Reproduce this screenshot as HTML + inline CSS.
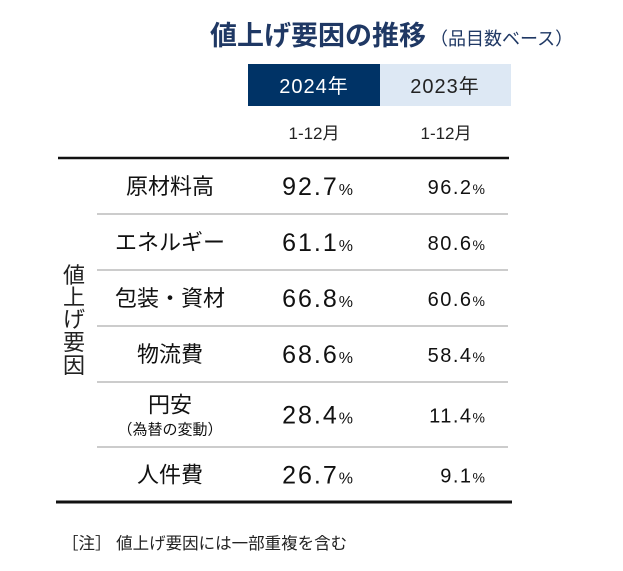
<!DOCTYPE html>
<html><head><meta charset="utf-8"><style>
body{margin:0;background:#fff;width:623px;height:571px;overflow:hidden}
svg{display:block;font-family:"Liberation Sans","Noto Sans CJK JP",sans-serif}
</style></head><body>
<svg width="623" height="571">
<text x="210" y="45" font-size="27" font-weight="bold" fill="#1f3864">値上げ要因の推移<tspan font-size="18" font-weight="normal" dx="4">（品目数ベース）</tspan></text>
<rect x="248" y="64" width="132" height="42" fill="#003366"/>
<rect x="380" y="64" width="131" height="42" fill="#dde8f4"/>
<text x="314" y="93" font-size="20" fill="#fff" text-anchor="middle" letter-spacing="1">2024年</text>
<text x="445" y="93" font-size="20" fill="#222" text-anchor="middle" letter-spacing="1">2023年</text>
<text x="314" y="139" font-size="17" fill="#222" text-anchor="middle">1-12月</text>
<text x="446" y="139" font-size="17" fill="#222" text-anchor="middle">1-12月</text>
<line x1="58" y1="158" x2="509" y2="158" stroke="#111" stroke-width="2.5"/>
<line x1="56" y1="502" x2="512" y2="502" stroke="#111" stroke-width="3"/>
<g font-size="22" fill="#222" text-anchor="middle">
<text x="74" y="283">値</text><text x="74" y="305">上</text><text x="74" y="327">げ</text><text x="74" y="350">要</text><text x="74" y="373">因</text>
</g>
<g id="rows"></g>
<text x="62" y="549" font-size="16.5" fill="#222">［注］ 値上げ要因には一部重複を含む</text>
</svg>
<script>
const categories=["原材料高","エネルギー","包装・資材","物流費","円安","人件費"];
const values2024=[92.7,61.1,66.8,68.6,28.4,26.7];
const values2023=[96.2,80.6,60.6,58.4,11.4,9.1];
const rowTops=[158,214,270,326,382,447,502];
const g=document.getElementById('rows');
const NS='http://www.w3.org/2000/svg';
function t(x,y,s,txt,anchor){const e=document.createElementNS(NS,'text');e.setAttribute('x',x);e.setAttribute('y',y);e.setAttribute('font-size',s);e.setAttribute('fill','#111');e.setAttribute('text-anchor',anchor);e.textContent=txt;g.appendChild(e);return e;}
categories.forEach((c,i)=>{
 const cy=(rowTops[i]+rowTops[i+1])/2;
 if(i>0){const l=document.createElementNS(NS,'line');l.setAttribute('x1',97);l.setAttribute('x2',508);l.setAttribute('y1',rowTops[i]);l.setAttribute('y2',rowTops[i]);l.setAttribute('stroke','#999');
 
 
 g.appendChild(l);}
 let lab;
 if(c==="円安"){lab=t(170,cy-2,22,c,'middle');const s=t(170,cy+20,15,"（為替の変動）",'middle');
 
 }
 else lab=t(170,cy+8,22,c,'middle');
 
 
 const a=t(353,cy+9,25,'','end');a.setAttribute('letter-spacing','2');a.innerHTML=values2024[i].toFixed(1)+'<tspan font-size="16" letter-spacing="0">%</tspan>';
 
 
 const b=t(485,cy+8,20,'','end');b.setAttribute('letter-spacing','1.5');b.innerHTML=values2023[i].toFixed(1)+'<tspan font-size="14" letter-spacing="0">%</tspan>';
 
 
});
</script>
</body></html>
